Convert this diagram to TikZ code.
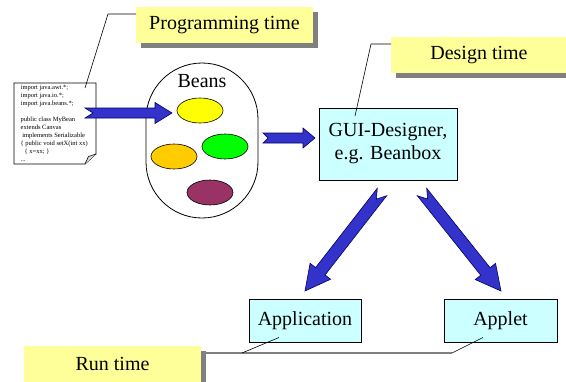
\documentclass[tikz,border=0pt]{standalone}
\usepackage{fontspec}
\setmainfont{Liberation Serif}
\usetikzlibrary{calc,shapes.geometric,shadows}

\definecolor{noteyellow}{HTML}{FFFF99}
\definecolor{boxcyan}{HTML}{CCFFFF}
\definecolor{arrowblue}{HTML}{3333CC}
\definecolor{arrowedge}{HTML}{000066}
\definecolor{shadowgray}{HTML}{808080}
\definecolor{beanyellow}{HTML}{FFFF00}
\definecolor{beangreen}{HTML}{00FF00}
\definecolor{beanorange}{HTML}{FFCC00}
\definecolor{beanmaroon}{HTML}{993366}

% block arrow with notched tail: tail, tip, shaft half-width, head half-width, head length, notch depth
\newcommand\fatarrow[6]{%
  \path ($(#2)!#5!(#1)$) coordinate (fa-base);
  \filldraw[blockarrow]
    ($(#1)!#3!90:(#2)$) -- ($(fa-base)!#3!90:(#2)$) -- ($(fa-base)!#4!90:(#2)$)
    -- (#2)
    -- ($(fa-base)!#4!-90:(#2)$) -- ($(fa-base)!#3!-90:(#2)$) -- ($(#1)!#3!-90:(#2)$)
    -- ($(#1)!#6!(#2)$) -- cycle;
}

\begin{document}
\begin{tikzpicture}[x=1pt,y=-1pt,
  bigtext/.style={font=\fontsize{20}{23}\selectfont},
  note/.style={bigtext, fill=noteyellow, inner sep=0pt, minimum height=36pt,
    drop shadow={shadow xshift=5pt, shadow yshift=-5pt, fill=shadowgray, opacity=1}},
  cyanbox/.style={bigtext, draw=black, line width=0.8pt, fill=boxcyan, inner sep=0pt, align=center},
  bean/.style={ellipse, draw=black, line width=0.6pt, minimum width=46pt, minimum height=25pt, inner sep=0pt},
  blockarrow/.style={fill=arrowblue, draw=arrowedge, line width=0.6pt, line join=miter},
  leader/.style={draw=black, line width=0.6pt},
  codefont/.style={font=\fontsize{6.5}{8}\selectfont}
]
\useasboundingbox (0,0) rectangle (566,381);
\clip (0,0) rectangle (566,381);

% time labels
\node[note, minimum width=177pt] (ptime) at (224.5,25) {Programming time};
\node[note, minimum width=176pt] (dtime) at (479,55) {Design time};
\node[note, minimum width=177pt] (rtime) at (112.5,364) {Run time};

% source file sheet with folded corner
\coordinate (code-nw) at (14,83);
\coordinate (code-se) at (96,164);
\draw[line width=0.8pt, fill=white] (code-nw) -- (96,83) -- (96,154) -- (85,164) -- (14,164) -- cycle;
\filldraw[line width=0.6pt, fill=black!15] (85,164) -- (88.5,156.5) -- (96,154);
\node[codefont, align=left, anchor=north west, inner sep=0pt] (codetext) at (20.5,85.3)
  {import java.awt.*;\\
   import java.io.*;\\
   import java.beans.*;\\[8pt]
   public class MyBean\\
   extends Canvas\\
   \hspace{1.6pt}implements Serializable\\
   \{ public void setX(int xx)\\
   \hspace{4pt}\{ x=xx; \}\\
   ...};

% bean container
\draw[line width=0.8pt, fill=white, rounded corners=56pt] (146,63) rectangle (258,218);
\node[bigtext, inner sep=0pt] (beans) at (202,81) {Beans};
\node[bean, fill=beanyellow] (b1) at (200,110.5) {};
\node[bean, fill=beangreen]  (b2) at (225,146.5) {};
\node[bean, fill=beanorange] (b3) at (174,156.5) {};
\node[bean, fill=beanmaroon] (b4) at (210,192.5) {};

% tools and targets
\node[cyanbox, minimum width=138pt, minimum height=72pt] (gui) at (388,144) {GUI-Designer,\\e.g. Beanbox};
\node[cyanbox, minimum width=112pt, minimum height=43pt] (app) at (305,320.5) {Application};
\node[cyanbox, minimum width=113pt, minimum height=43pt] (applet) at (500.5,320.5) {Applet};

% leader lines of the time labels
\coordinate (p1) at (136,14);
\coordinate (p2) at (108,14);
\coordinate (p3) at (85,88);
\draw[leader] (p1) -- (p2) -- (p3);
\coordinate (d1) at (391,44);
\coordinate (d2) at (371,44);
\coordinate (d3) at (355,116);
\draw[leader] (d1) -- (d2) -- (d3);
\coordinate (r1) at (203,353);
\coordinate (r2) at (242,353);
\coordinate (r3) at (452,353);
\draw[draw=shadowgray, line width=1.6pt] (r1) -- (r3);
\draw[leader] (r2) -- (279,337.5);
\draw[leader] (r3) -- (483,337.5);

% block arrows
\coordinate (a1t) at (85,113);   \coordinate (a1h) at (172,113);
\coordinate (a2t) at (263,138);  \coordinate (a2h) at (315,138);
\coordinate (a3t) at (382,192);  \coordinate (a3h) at (305,291);
\coordinate (a4t) at (422,192);  \coordinate (a4h) at (501,291);
\fatarrow{a1t}{a1h}{5pt}{10.5pt}{17pt}{8pt}
\fatarrow{a2t}{a2h}{5pt}{10pt}{12pt}{5pt}
\fatarrow{a3t}{a3h}{6pt}{13pt}{25pt}{9pt}
\fatarrow{a4t}{a4h}{6pt}{13pt}{25pt}{9pt}
\end{tikzpicture}
\end{document}
